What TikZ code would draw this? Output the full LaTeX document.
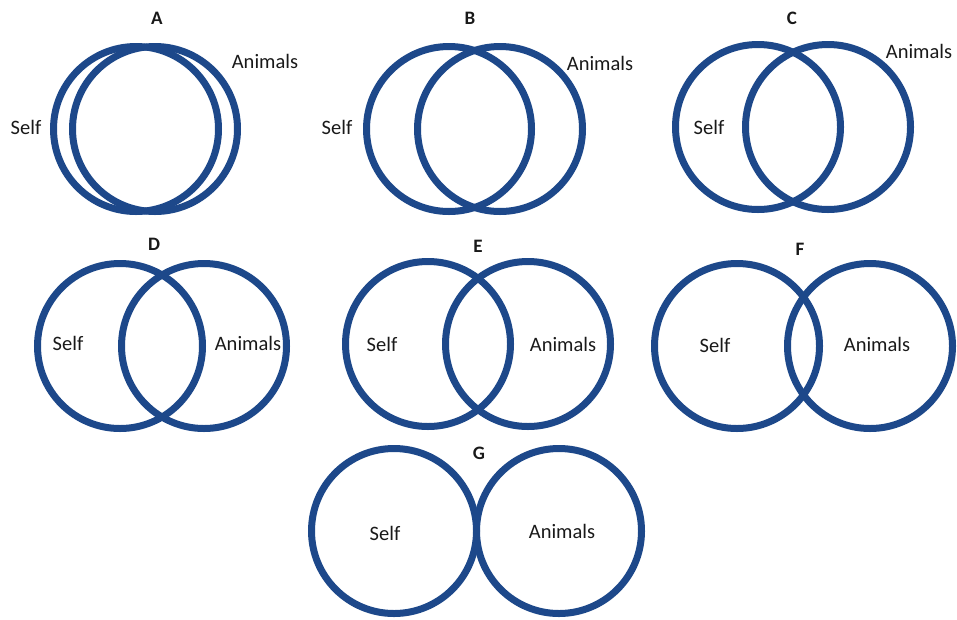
\documentclass[tikz,border=0pt]{standalone}
\usepackage{fontspec}
\setmainfont{Carlito}
\definecolor{ringblue}{RGB}{29,72,138}
\begin{document}
\begin{tikzpicture}[x=1pt,y=-1pt,
  ring/.style={circle,draw=ringblue,line width=7pt,minimum size=165pt,inner sep=0pt},
  word/.style={inner sep=0pt,font=\fontsize{20.5}{24}\selectfont,text=black!90},
  panel/.style={inner sep=0pt,font=\fontsize{19}{22}\selectfont\bfseries,text=black!90}]
\useasboundingbox (0,0) rectangle (957,619);

% A: nearly coinciding
\node[ring] (As) at (136,129) {};
\node[ring] (Aa) at (155,129) {};
\node[panel] (Al) at (157,18) {A};
\node[word] (Aself) at (26,127) {Self};
\node[word] (Aanim) at (265,61) {Animals};

% B
\node[ring] (Bs) at (449,129) {};
\node[ring] (Ba) at (500,129) {};
\node[panel] (Bl) at (470,18) {B};
\node[word] (Bself) at (337,127) {Self};
\node[word] (Banim) at (600,63) {Animals};

% C
\node[ring] (Cs) at (758,127) {};
\node[ring] (Ca) at (828,127) {};
\node[panel] (Cl) at (792,18) {C};
\node[word] (Cself) at (709,127) {Self};
\node[word] (Canim) at (919,51) {Animals};

% D
\node[ring] (Ds) at (120,346) {};
\node[ring] (Da) at (204,346) {};
\node[panel] (Dl) at (154,244) {D};
\node[word] (Dself) at (68,343) {Self};
\node[word] (Danim) at (248,343) {Animals};

% E
\node[ring] (Es) at (428,344) {};
\node[ring] (Ea) at (528,344) {};
\node[panel] (El) at (478,246) {E};
\node[word] (Eself) at (382,344) {Self};
\node[word] (Eanim) at (563,344) {Animals};

% F
\node[ring] (Fs) at (737,346) {};
\node[ring] (Fa) at (870,346) {};
\node[panel] (Fl) at (800,249) {F};
\node[word] (Fself) at (715,345) {Self};
\node[word] (Fanim) at (877,344) {Animals};

% G: just touching
\node[ring] (Gs) at (394,531) {};
\node[ring] (Ga) at (559,531) {};
\node[panel] (Gl) at (479,453) {G};
\node[word] (Gself) at (385,533) {Self};
\node[word] (Ganim) at (562,531) {Animals};
\end{tikzpicture}
\end{document}
